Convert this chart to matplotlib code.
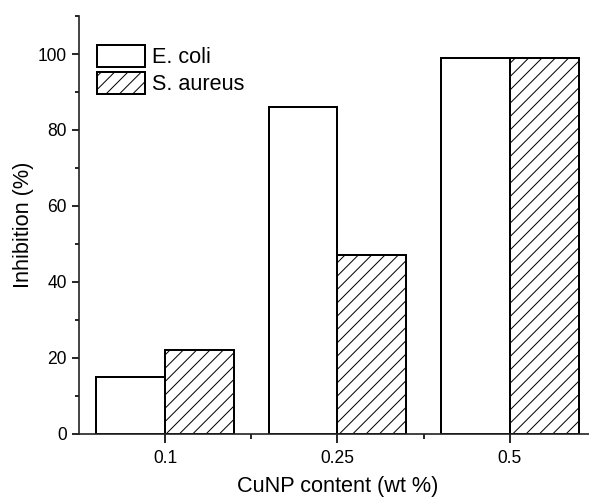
import numpy as np
import matplotlib
matplotlib.use('Agg')
import matplotlib.pyplot as plt
from matplotlib.ticker import MultipleLocator, FixedLocator

# dane z wykresu
kategorie = ['0.1', '0.25', '0.5']
e_coli = [15, 86, 99]
s_aureus = [22, 47, 99]

plt.rcParams['font.family'] = ['Liberation Sans', 'DejaVu Sans']
plt.rcParams['hatch.linewidth'] = 0.6

fig = plt.figure(figsize=(589 / 120, 497 / 120), dpi=120)
ax = fig.add_axes([0.1341, 0.1268, 0.8778, 0.841])

X_axis = np.arange(len(kategorie))
ax.bar(X_axis - 0.2, e_coli, 0.4, color='white', edgecolor='black', linewidth=1.2, label='E. coli')
ax.bar(X_axis + 0.2, s_aureus, 0.4, color='white', edgecolor='black', linewidth=1.2, hatch='///', label='S. aureus')

ax.set_xlim(-0.5, 2.5)
ax.set_ylim(0, 110)
ax.set_xticks(X_axis)
ax.set_xticklabels(kategorie)
ax.xaxis.set_minor_locator(FixedLocator([0.5, 1.5]))
ax.yaxis.set_major_locator(MultipleLocator(20))
ax.yaxis.set_minor_locator(MultipleLocator(10))

for s in ['top', 'right']:
    ax.spines[s].set_visible(False)
for s in ['left', 'bottom']:
    ax.spines[s].set_linewidth(1.0)
    ax.spines[s].set_color('#222222')

ax.tick_params(axis='both', which='major', direction='out', labelsize=10.5, width=1.0, pad=3)
ax.tick_params(axis='y', which='major', length=4.2)
ax.tick_params(axis='x', which='major', length=5.4, pad=4)
ax.tick_params(axis='y', which='minor', length=2.2, width=1.0)
ax.tick_params(axis='x', which='minor', length=3, width=1.0)

ax.set_xlabel('CuNP content (wt %)', fontsize=13, labelpad=5.5)
ax.set_ylabel('Inhibition (%)', fontsize=13, labelpad=2.2)

ax.legend(loc='upper left', bbox_to_anchor=(0.0348, 0.9306), frameon=False, fontsize=13,
          handlelength=2.2, handleheight=1.18, handletextpad=0.33, labelspacing=0.18,
          borderpad=0, borderaxespad=0)

fig.savefig('out.png', dpi=120)
